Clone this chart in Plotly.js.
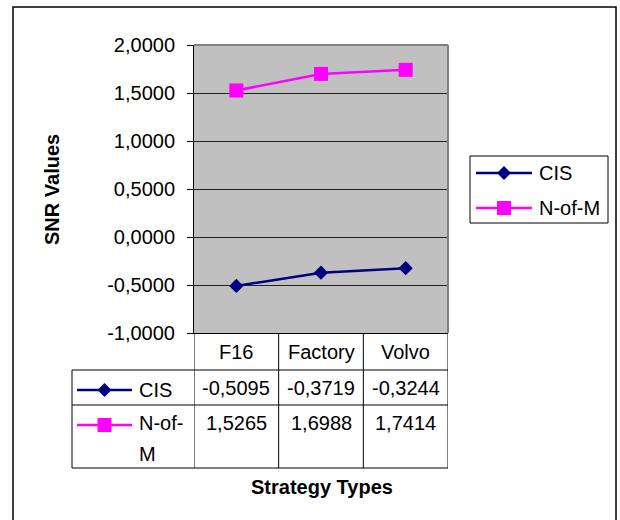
<!DOCTYPE html>
<html>
<head>
<meta charset="utf-8">
<script src="https://cdn.plot.ly/plotly-3.0.1.min.js"></script>
<style>html,body{margin:0;padding:0;background:#fff}</style>
</head>
<body>
<div id="chart" style="width:620px;height:520px"></div>
<script>
// Chart data
const categories = ['F16', 'Factory', 'Volvo'];
const seriesNames = ['CIS', 'N-of-M'];
const cisValues = [-0.5095, -0.3719, -0.3244];
const nofmValues = [1.5265, 1.6988, 1.7414];
const yTickValues = [-1, -0.5, 0, 0.5, 1, 1.5, 2];
const yTitle = 'SNR Values';
const xTitle = 'Strategy Types';

// Page geometry (pixels) converted to paper fractions
const W = 620, H = 520;
const px = x => x / W;
const py = y => 1 - y / H;

// Decimal comma, four places, plain hyphen for negatives
const fmt = v => v.toFixed(4).replace('.', ',');

const FONT = 'Liberation Sans, Arial, sans-serif';
const NAVY = '#000080';
const MAGENTA = '#FF00FF';

const seriesValues = [cisValues, nofmValues];
const seriesColors = [NAVY, MAGENTA];
const seriesSymbols = ['diamond', 'square'];
const seriesSizes = [11, 14];

const traces = seriesNames.map((name, i) => ({
  type: 'scatter',
  mode: 'lines+markers',
  name: name,
  x: categories,
  y: seriesValues[i],
  line: {color: seriesColors[i], width: 2.5},
  marker: {symbol: seriesSymbols[i], size: seriesSizes[i], color: seriesColors[i]},
  cliponaxis: false,
  showlegend: false,
  hoverinfo: 'skip'
}));

// Plot-area / table geometry
const plotL = 194, plotR = 448, plotT = 45, plotB = 333;
const tableL = 72, headB = 370, rowB1 = 405, rowB2 = 468;

const shapes = [];
const annotations = [];

function pline(x0, y0, x1, y1, color, width) {
  shapes.push({type: 'line', xref: 'paper', yref: 'paper',
    x0: px(x0), y0: py(y0), x1: px(x1), y1: py(y1),
    line: {color: color || '#000', width: width || 1}, layer: 'above'});
}

function markerPath(kind, cx, cy, color) {
  let pts;
  const r = kind === 'diamond' ? 7 : 7;
  if (kind === 'diamond') {
    pts = [[cx, cy - r], [cx + r, cy], [cx, cy + r], [cx - r, cy]];
  } else {
    pts = [[cx - r, cy - r], [cx + r, cy - r], [cx + r, cy + r], [cx - r, cy + r]];
  }
  const d = 'M' + pts.map(p => px(p[0]) + ',' + py(p[1])).join('L') + 'Z';
  shapes.push({type: 'path', xref: 'paper', yref: 'paper', path: d,
    fillcolor: color, line: {width: 0}, layer: 'above'});
}

function key(i, x0, x1, cy) {
  pline(x0, cy, x1, cy, seriesColors[i], 2.5);
  markerPath(seriesSymbols[i], (x0 + x1) / 2, cy, seriesColors[i]);
}

function text(t, x, y, xanchor, opts) {
  annotations.push(Object.assign({
    text: t, xref: 'paper', yref: 'paper', x: px(x), y: py(y),
    xanchor: xanchor || 'center', yanchor: 'middle', showarrow: false,
    font: {family: FONT, size: 20, color: '#000'}
  }, opts || {}));
}

// Outer chart frame
shapes.push({type: 'rect', xref: 'paper', yref: 'paper',
  x0: px(13), x1: px(616), y0: py(7), y1: py(540),
  line: {color: '#000', width: 1.5}, layer: 'above'});

// Plot area top and right edges
pline(plotL, plotT, plotR, plotT, '#808080', 2);
pline(plotR, plotT, plotR, plotB, '#808080', 2);

// Data table grid: column boundaries follow the category axis
for (let k = 0; k <= categories.length; k++) {
  shapes.push({type: 'line', xref: 'x', yref: 'paper',
    x0: k - 0.5, x1: k - 0.5, y0: py(plotB), y1: py(rowB2),
    line: {color: '#000', width: 1}, layer: 'above'});
}
pline(tableL, headB, plotR, headB);
pline(tableL, rowB1, plotR, rowB1);
pline(tableL, rowB2, plotR, rowB2);
pline(tableL, headB, tableL, rowB2);

// Table header (categories) and values
categories.forEach((c, j) => {
  annotations.push({text: c, xref: 'x', yref: 'paper', x: j, y: py(352),
    xanchor: 'center', yanchor: 'middle', showarrow: false,
    font: {family: FONT, size: 20, color: '#000'}});
  annotations.push({text: fmt(cisValues[j]), xref: 'x', yref: 'paper', x: j, y: py(388),
    xanchor: 'center', yanchor: 'middle', showarrow: false,
    font: {family: FONT, size: 20, color: '#000'}});
  annotations.push({text: fmt(nofmValues[j]), xref: 'x', yref: 'paper', x: j, y: py(423),
    xanchor: 'center', yanchor: 'middle', showarrow: false,
    font: {family: FONT, size: 20, color: '#000'}});
});

// Row keys in the table
key(0, 77, 132, 390);
text(seriesNames[0], 137, 390, 'left');
key(1, 77, 132, 425);
text(seriesNames[1].slice(0, 5), 137, 423, 'left');
text(seriesNames[1].slice(5), 137, 454, 'left');

// Legend box
shapes.push({type: 'rect', xref: 'paper', yref: 'paper',
  x0: px(470), x1: px(608), y0: py(156), y1: py(223),
  line: {color: '#000', width: 1}, fillcolor: 'rgba(0,0,0,0)', layer: 'above'});
key(0, 476, 532, 173);
text(seriesNames[0], 537, 173, 'left');
key(1, 476, 532, 208);
text(seriesNames[1], 537, 208, 'left');

// Axis titles
text(yTitle, 52, 190, 'center', {textangle: -90,
  font: {family: FONT, size: 20, color: '#000', weight: 'bold'}});
text(xTitle, 322, 487, 'center',
  {font: {family: FONT, size: 20, color: '#000', weight: 'bold'}});

const layout = {
  width: W, height: H,
  margin: {l: 0, r: 0, t: 0, b: 0, pad: 0},
  paper_bgcolor: '#FFFFFF',
  plot_bgcolor: '#C0C0C0',
  showlegend: false,
  xaxis: {
    type: 'category', range: [-0.5, 2.5],
    domain: [px(plotL), px(plotR)],
    showticklabels: false, ticks: '', showgrid: false, zeroline: false,
    showline: true, linecolor: '#000', linewidth: 1,
    automargin: false, fixedrange: true
  },
  yaxis: {
    range: [-1, 2],
    domain: [py(plotB), py(plotT)],
    tickvals: yTickValues, ticktext: yTickValues.map(fmt),
    ticks: 'outside', ticklen: 6, tickcolor: '#000', tickwidth: 1,
    ticklabelstandoff: 8,
    tickfont: {family: FONT, size: 20, color: '#000'},
    showgrid: true, gridcolor: '#222', gridwidth: 1,
    zeroline: false, showline: true, linecolor: '#000', linewidth: 1,
    automargin: false, fixedrange: true
  },
  shapes: shapes,
  annotations: annotations
};

Plotly.newPlot('chart', traces, layout, {staticPlot: true, displayModeBar: false});
</script>
</body>
</html>
